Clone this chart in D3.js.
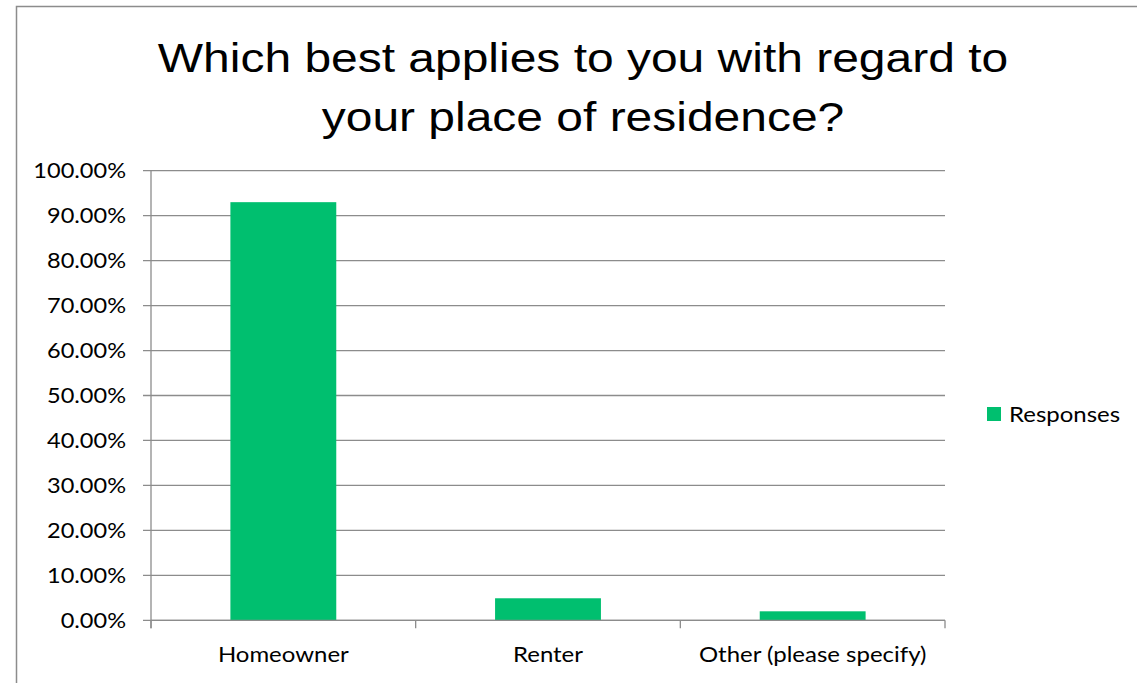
<!DOCTYPE html>
<html><head><meta charset="utf-8">
<script src="https://cdn.jsdelivr.net/npm/d3@7"></script>
<style>body{margin:0;background:#fff}svg{display:block}</style>
</head><body>
<script>
const categories = ["Homeowner", "Renter", "Other (please specify)"];
const values = [93.0, 4.9, 2.0];
const yTicks = [0,10,20,30,40,50,60,70,80,90,100];
const seriesName = "Responses";
const titleLines = ["Which best applies to you with regard to", "your place of residence?"];

const W = 1137, H = 683;
const svg = d3.select("body").append("svg").attr("width", W).attr("height", H);
svg.append("rect").attr("x",16.5).attr("y",6.5).attr("width",W+10).attr("height",H+10)
  .attr("fill","#fff").attr("stroke","#8c8c8c").attr("stroke-width",1.5);

const m = {left:151, right:945, top:170.7, bottom:620.3};
const xb = d3.scaleBand().domain(categories).range([m.left, m.right]);
const y = d3.scaleLinear().domain([0,100]).range([m.bottom, m.top]);
const font = "Lato, 'Open Sans', sans-serif";
const sx = 1.09;
const tr = (x, yy, s) => `translate(${x},${yy}) scale(${s},1)`;

svg.append("g").selectAll("line").data(yTicks).join("line")
  .attr("x1", m.left-8).attr("x2", m.right).attr("y1", d=>y(d)).attr("y2", d=>y(d))
  .attr("stroke","#8c8c8c").attr("stroke-width",1.3);
svg.append("g").selectAll("text").data(yTicks).join("text")
  .attr("transform", d=>tr(126, y(d)+7.5, sx)).attr("text-anchor","end")
  .attr("font-family",font).attr("font-size",21.6).attr("fill","#000")
  .text(d=>d.toFixed(2)+"%");

svg.append("g").selectAll("rect").data(values).join("rect")
  .attr("x",(d,i)=>xb(categories[i]) + (xb.bandwidth()-xb.bandwidth()/2.5)/2)
  .attr("width", xb.bandwidth()/2.5)
  .attr("y", d=>y(d)).attr("height", d=>y(0)-y(d)).attr("fill","#00BF6F");

svg.append("line").attr("x1",m.left).attr("x2",m.left).attr("y1",m.top).attr("y2",m.bottom+8)
  .attr("stroke","#8c8c8c").attr("stroke-width",1.3);
const bounds = categories.map(c=>xb(c)).concat([m.right]);
svg.append("g").selectAll("line").data(bounds).join("line")
  .attr("x1",d=>d).attr("x2",d=>d).attr("y1",m.bottom).attr("y2",m.bottom+8)
  .attr("stroke","#8c8c8c").attr("stroke-width",1.3);
svg.append("line").attr("x1",m.left).attr("x2",m.right).attr("y1",m.bottom).attr("y2",m.bottom)
  .attr("stroke","#8c8c8c").attr("stroke-width",1.3);
svg.append("g").selectAll("text").data(categories).join("text")
  .attr("transform", d=>tr(xb(d)+xb.bandwidth()/2, 662, sx)).attr("text-anchor","middle")
  .attr("font-family",font).attr("font-size",22).text(d=>d);

svg.append("g").selectAll("text").data(titleLines).join("text")
  .attr("transform",(d,i)=>tr(583, 71.7+i*58.8, 1.17)).attr("text-anchor","middle")
  .attr("font-family","'Liberation Sans', Arial, sans-serif").attr("font-size",41).text(d=>d);

svg.append("rect").attr("x",987).attr("y",407).attr("width",14).attr("height",14).attr("fill","#00BF6F");
svg.append("text").attr("transform", tr(1009, 422, sx)).attr("font-family",font).attr("font-size",22).text(seriesName);
</script>
</body></html>
